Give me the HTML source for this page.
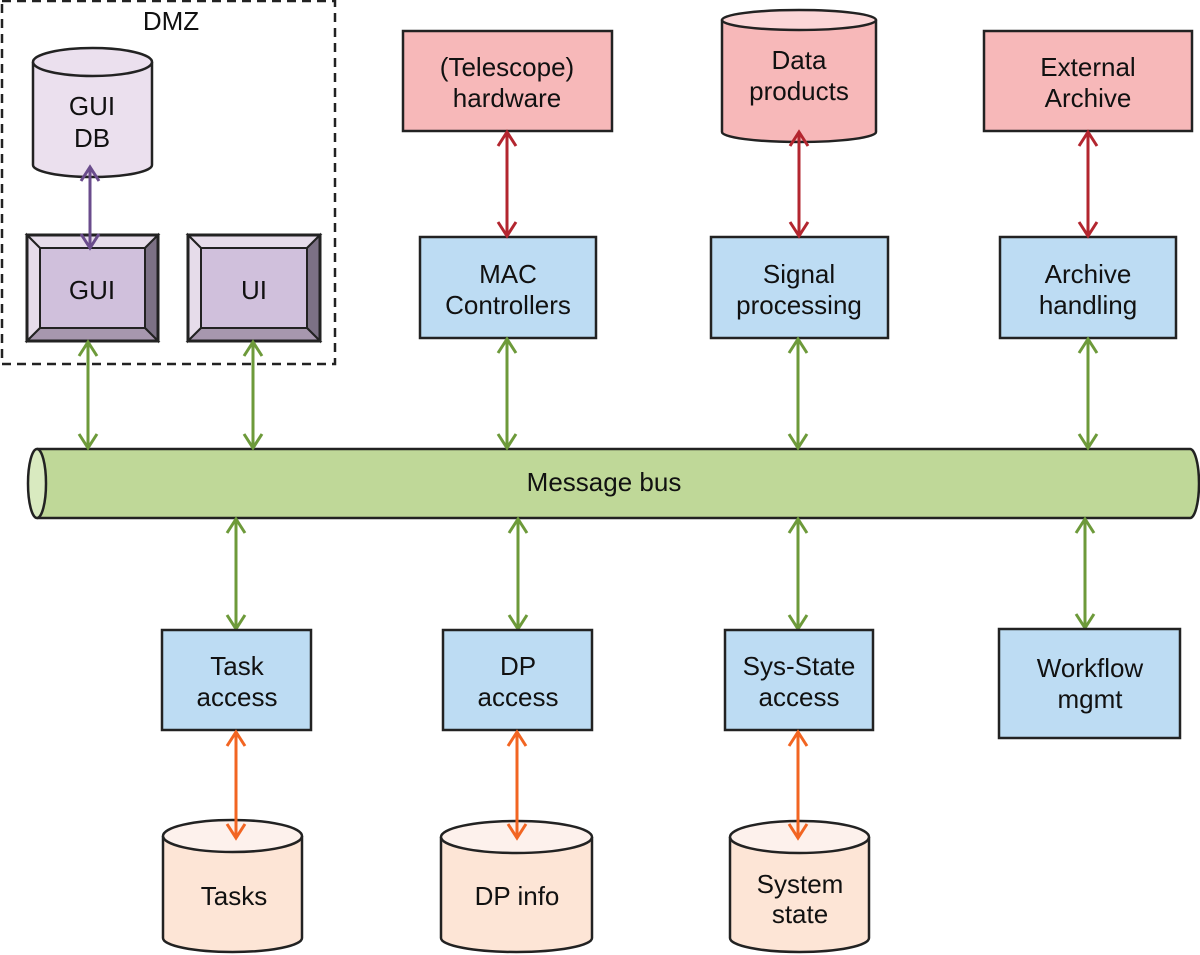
<!DOCTYPE html>
<html><head><meta charset="utf-8"><style>
html,body{margin:0;padding:0;background:#fff;}
svg{display:block;}
text{font-family:"Liberation Sans",Arial,sans-serif;font-size:26px;fill:#111;text-anchor:middle;}
.g{stroke:#6d9a3a;stroke-width:3;fill:none;}
.r{stroke:#b3262f;stroke-width:3;fill:none;}
.o{stroke:#f26522;stroke-width:3;fill:none;}
.p{stroke:#6a4c8c;stroke-width:3;fill:none;}
</style></head><body>
<svg width="1200" height="955" viewBox="0 0 1200 955" xmlns="http://www.w3.org/2000/svg">

<rect x="2" y="1" width="333" height="363" fill="none" stroke="#222" stroke-width="2.5" stroke-dasharray="9,6"/>
<text x="171" y="30">DMZ</text>

<path d="M33,62 L33,165 A59.5,12 0 0 0 152,165 L152,62" fill="#ebe0ee" stroke="#222" stroke-width="2.5"/>
<ellipse cx="92.5" cy="62" rx="59.5" ry="14" fill="#ebe0ee" stroke="#222" stroke-width="2.5"/>
<text x="92" y="115">GUI</text>
<text x="92" y="147">DB</text>

<g stroke="#222" stroke-width="2">
<polygon points="27,235 158,235 145,248 40,248" fill="#e6dcea"/>
<polygon points="27,235 40,248 40,328 27,341" fill="#e6dcea"/>
<polygon points="158,235 158,341 145,328 145,248" fill="#7c7185"/>
<polygon points="27,341 158,341 145,328 40,328" fill="#a797ae"/>
<rect x="40" y="248" width="105" height="80" fill="#d0c0dc"/>
<polygon points="188,235 320,235 307,248 201,248" fill="#e6dcea"/>
<polygon points="188,235 201,248 201,328 188,341" fill="#e6dcea"/>
<polygon points="320,235 320,341 307,328 307,248" fill="#7c7185"/>
<polygon points="188,341 320,341 307,328 201,328" fill="#a797ae"/>
<rect x="201" y="248" width="106" height="80" fill="#d0c0dc"/>
</g>
<rect x="27" y="235" width="131" height="106" fill="none" stroke="#222" stroke-width="3"/>
<rect x="188" y="235" width="132" height="106" fill="none" stroke="#222" stroke-width="3"/>
<text x="92" y="299">GUI</text>
<text x="254" y="299">UI</text>
<path class="p" d="M90,167 V248 M81,181 L90,167 L99,181 M81,234 L90,248 L99,234"/>

<rect x="403" y="31" width="209" height="100" fill="#f7b8b9" stroke="#222" stroke-width="2.5"/>
<text x="507" y="76">(Telescope)</text>
<text x="507" y="107">hardware</text>

<path d="M722,20 L722,132 A77,10 0 0 0 876,132 L876,20" fill="#f7b8b9" stroke="#222" stroke-width="2.5"/>
<ellipse cx="799" cy="20" rx="77" ry="10" fill="#fbd6d7" stroke="#222" stroke-width="2.5"/>
<text x="799" y="69">Data</text>
<text x="799" y="100">products</text>

<rect x="984" y="31" width="208" height="100" fill="#f7b8b9" stroke="#222" stroke-width="2.5"/>
<text x="1088" y="76">External</text>
<text x="1088" y="107">Archive</text>

<rect x="420" y="237" width="176" height="101" fill="#bddcf3" stroke="#222" stroke-width="2.5"/>
<text x="508" y="283">MAC</text>
<text x="508" y="314">Controllers</text>
<rect x="711" y="237" width="177" height="101" fill="#bddcf3" stroke="#222" stroke-width="2.5"/>
<text x="799" y="283">Signal</text>
<text x="799" y="314">processing</text>
<rect x="1000" y="237" width="176" height="101" fill="#bddcf3" stroke="#222" stroke-width="2.5"/>
<text x="1088" y="283">Archive</text>
<text x="1088" y="314">handling</text>

<path class="r" d="M507,132 V236 M498,146 L507,132 L516,146 M498,222 L507,236 L516,222"/>
<path class="r" d="M799,132 V236 M790,146 L799,132 L808,146 M790,222 L799,236 L808,222"/>
<path class="r" d="M1088,132 V236 M1079,146 L1088,132 L1097,146 M1079,222 L1088,236 L1097,222"/>

<path d="M37,449 L1190,449 A9,34.5 0 0 1 1190,518 L37,518" fill="#bfd898" stroke="#222" stroke-width="2.5"/>
<ellipse cx="37" cy="483.5" rx="9" ry="34.5" fill="#d9eac0" stroke="#222" stroke-width="2.5"/>
<text x="604" y="491">Message bus</text>

<path class="g" d="M88,342 V448 M79,356 L88,342 L97,356 M79,434 L88,448 L97,434"/>
<path class="g" d="M253,342 V448 M244,356 L253,342 L262,356 M244,434 L253,448 L262,434"/>
<path class="g" d="M507,339 V448 M498,353 L507,339 L516,353 M498,434 L507,448 L516,434"/>
<path class="g" d="M798,339 V448 M789,353 L798,339 L807,353 M789,434 L798,448 L807,434"/>
<path class="g" d="M1088,339 V448 M1079,353 L1088,339 L1097,353 M1079,434 L1088,448 L1097,434"/>

<path class="g" d="M236,519 V629 M227,533 L236,519 L245,533 M227,615 L236,629 L245,615"/>
<path class="g" d="M518,519 V629 M509,533 L518,519 L527,533 M509,615 L518,629 L527,615"/>
<path class="g" d="M798,519 V629 M789,533 L798,519 L807,533 M789,615 L798,629 L807,615"/>
<path class="g" d="M1085,519 V628 M1076,533 L1085,519 L1094,533 M1076,614 L1085,628 L1094,614"/>

<rect x="162" y="630" width="149" height="100" fill="#bddcf3" stroke="#222" stroke-width="2.5"/>
<text x="237" y="675">Task</text>
<text x="237" y="706">access</text>
<rect x="443" y="630" width="149" height="100" fill="#bddcf3" stroke="#222" stroke-width="2.5"/>
<text x="518" y="675">DP</text>
<text x="518" y="706">access</text>
<rect x="725" y="630" width="148" height="100" fill="#bddcf3" stroke="#222" stroke-width="2.5"/>
<text x="799" y="675">Sys-State</text>
<text x="799" y="706">access</text>
<rect x="999" y="629" width="181" height="109" fill="#bddcf3" stroke="#222" stroke-width="2.5"/>
<text x="1090" y="677">Workflow</text>
<text x="1090" y="708">mgmt</text>

<path d="M163,836 L163,938 A69.5,14 0 0 0 302,938 L302,836" fill="#fde5d6" stroke="#222" stroke-width="2.5"/>
<ellipse cx="232.5" cy="836" rx="69.5" ry="16" fill="#fdf1ec" stroke="#222" stroke-width="2.5"/>
<text x="234" y="905">Tasks</text>
<path d="M441,837 L441,938 A75.5,14 0 0 0 592,938 L592,837" fill="#fde5d6" stroke="#222" stroke-width="2.5"/>
<ellipse cx="516.5" cy="837" rx="75.5" ry="16" fill="#fdf1ec" stroke="#222" stroke-width="2.5"/>
<text x="517" y="905">DP info</text>
<path d="M730,837 L730,938 A69.5,14 0 0 0 869,938 L869,837" fill="#fde5d6" stroke="#222" stroke-width="2.5"/>
<ellipse cx="799.5" cy="837" rx="69.5" ry="16" fill="#fdf1ec" stroke="#222" stroke-width="2.5"/>
<text x="800" y="893">System</text>
<text x="800" y="923">state</text>

<path class="o" d="M236,732 V838 M227,746 L236,732 L245,746 M227,824 L236,838 L245,824"/>
<path class="o" d="M517,732 V838 M508,746 L517,732 L526,746 M508,824 L517,838 L526,824"/>
<path class="o" d="M798,732 V838 M789,746 L798,732 L807,746 M789,824 L798,838 L807,824"/>
</svg>
</body></html>
